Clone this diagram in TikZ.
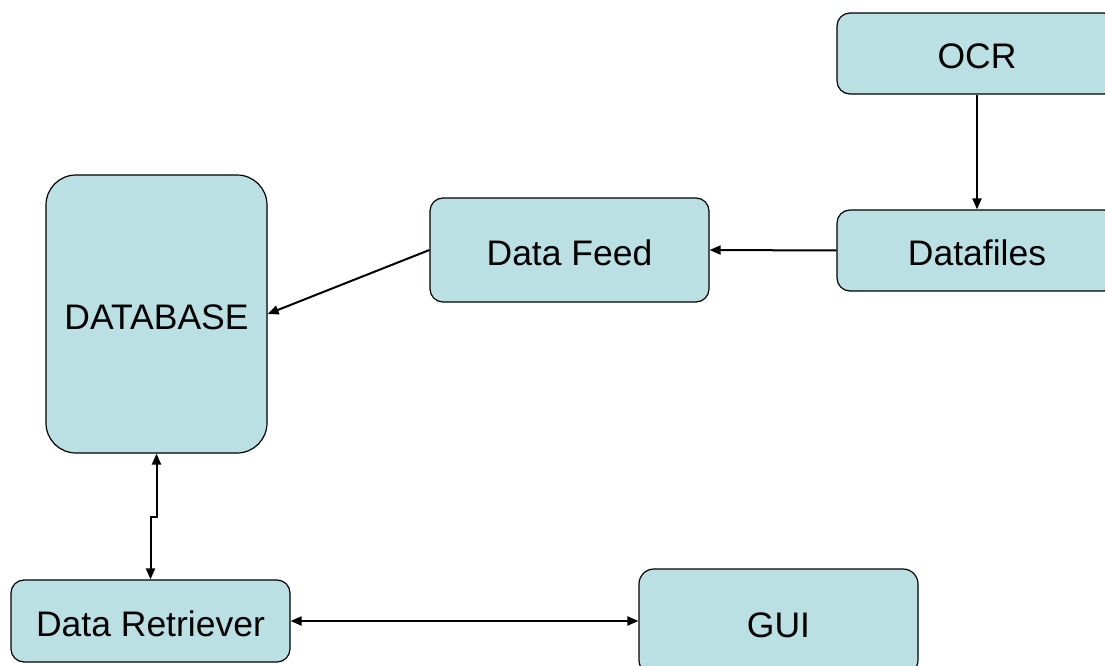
\documentclass[tikz,border=0pt]{standalone}
\usepackage{fontspec}
\setmainfont{Liberation Sans}
\usetikzlibrary{arrows.meta,calc}
\definecolor{boxfill}{RGB}{186,224,227}
\begin{document}
\begin{tikzpicture}[x=1pt,y=-1pt,
  box/.style={draw=black,line width=1.2pt,fill=boxfill,rounded corners=13pt,
    inner sep=0pt,text height=30pt,text depth=0pt,font=\fontsize{35.5}{42}\selectfont},
  conn/.style={line width=2pt,-{Triangle[length=11pt,width=9pt]}},
  conn2/.style={line width=2pt,{Triangle[length=11pt,width=9pt]}-{Triangle[length=11pt,width=9pt]}}]
\clip (0,0) rectangle (1105,666);
\fill[white] (0,0) rectangle (1105,666);
\node[box,minimum width=280pt,minimum height=81pt] (ocr) at (977,53.5) {OCR};
\node[box,minimum width=280pt,minimum height=81pt] (files) at (977,250.5) {Datafiles};
\node[box,minimum width=279pt,minimum height=104pt] (feed) at (569.5,250) {Data Feed};
\node[box,rounded corners=30pt,minimum width=221pt,minimum height=278pt] (db) at (156.5,314) {DATABASE};
\node[box,minimum width=279pt,minimum height=82pt] (ret) at (150.5,621) {Data Retriever};
\node[box,rounded corners=15pt,minimum width=279pt,minimum height=106pt] (gui) at (778.5,622) {GUI};
\draw[conn] (ocr.south) -- (files.north);
\draw[conn] (files.west) -- (feed.east);
\draw[conn] (feed.west) -- (db.east);
\coordinate (mid) at ($(db.south)!0.5!(ret.north)$);
\draw[conn2] (db.south) |- (mid) -| (ret.north);
\draw[conn2] (ret.east) -- (ret.east -| gui.west);
\end{tikzpicture}
\end{document}
